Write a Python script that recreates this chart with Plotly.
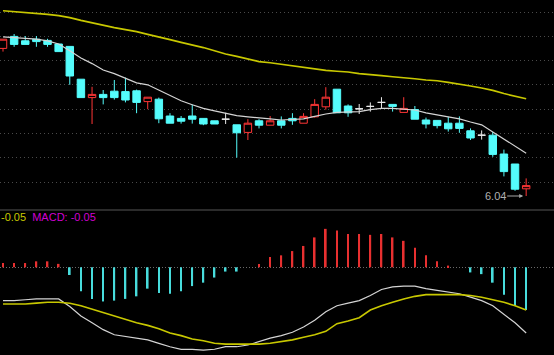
import plotly.graph_objects as go

# ---------------- data ----------------
idx = list(range(48))

opens = [6.409, 6.439, 6.428, 6.432, 6.429, 6.420, 6.414, 6.332, 6.286, 6.294,
         6.302, 6.301, 6.303, 6.276, 6.282, 6.240, 6.234, 6.240, 6.234, 6.228,
         6.232, 6.218, 6.199, 6.228, 6.217, 6.228, 6.234, 6.222, 6.238, 6.263,
         6.307, 6.265, 6.258, 6.264, 6.274, 6.269, 6.249, 6.256, 6.230, 6.229,
         6.222, 6.222, 6.203, 6.192, 6.192, 6.145, 6.120, 6.058]
highs = [6.432, 6.445, 6.440, 6.440, 6.433, 6.420, 6.414, 6.332, 6.313, 6.305,
         6.330, 6.336, 6.306, 6.287, 6.286, 6.247, 6.240, 6.269, 6.234, 6.228,
         6.248, 6.218, 6.232, 6.232, 6.240, 6.239, 6.247, 6.247, 6.282, 6.312,
         6.307, 6.269, 6.270, 6.274, 6.287, 6.269, 6.287, 6.265, 6.236, 6.229,
         6.238, 6.239, 6.209, 6.204, 6.200, 6.156, 6.120, 6.084]
lows = [6.401, 6.413, 6.419, 6.413, 6.413, 6.401, 6.318, 6.286, 6.220, 6.269,
        6.281, 6.274, 6.247, 6.257, 6.222, 6.222, 6.221, 6.221, 6.217, 6.220,
        6.220, 6.136, 6.180, 6.209, 6.217, 6.209, 6.218, 6.222, 6.236, 6.256,
        6.248, 6.238, 6.245, 6.251, 6.259, 6.251, 6.249, 6.232, 6.209, 6.209,
        6.201, 6.198, 6.180, 6.181, 6.138, 6.089, 6.053, 6.040]
closes = [6.432, 6.419, 6.419, 6.426, 6.419, 6.401, 6.340, 6.286, 6.294, 6.286,
          6.286, 6.280, 6.274, 6.287, 6.233, 6.222, 6.227, 6.232, 6.220, 6.220,
          6.232, 6.198, 6.222, 6.217, 6.228, 6.217, 6.228, 6.239, 6.269, 6.287,
          6.248, 6.248, 6.258, 6.264, 6.274, 6.264, 6.259, 6.232, 6.220, 6.216,
          6.208, 6.209, 6.185, 6.192, 6.144, 6.101, 6.057, 6.066]

ma_short = [6.438, 6.436, 6.434, 6.432, 6.428, 6.420, 6.403, 6.385, 6.371, 6.355,
            6.346, 6.335, 6.323, 6.318, 6.304, 6.290, 6.278, 6.268, 6.259, 6.253,
            6.247, 6.241, 6.238, 6.236, 6.233, 6.230, 6.231, 6.233, 6.239, 6.245,
            6.249, 6.250, 6.251, 6.256, 6.259, 6.259, 6.257, 6.255, 6.248, 6.243,
            6.238, 6.233, 6.225, 6.218, 6.200, 6.183, 6.165, 6.147]
ma_long = [6.503, 6.501, 6.498, 6.496, 6.494, 6.491, 6.486, 6.479, 6.473, 6.466,
           6.461, 6.456, 6.451, 6.444, 6.438, 6.431, 6.424, 6.418, 6.411, 6.403,
           6.395, 6.389, 6.383, 6.376, 6.373, 6.369, 6.365, 6.361, 6.358, 6.354,
           6.352, 6.350, 6.346, 6.344, 6.341, 6.338, 6.336, 6.333, 6.330, 6.328,
           6.324, 6.320, 6.315, 6.310, 6.304, 6.296, 6.289, 6.283]

dif = [-0.039, -0.039, -0.038, -0.037, -0.037, -0.037, -0.046, -0.057, -0.065, -0.073,
       -0.079, -0.081, -0.083, -0.085, -0.089, -0.093, -0.096, -0.096, -0.097, -0.096,
       -0.093, -0.093, -0.091, -0.087, -0.083, -0.080, -0.076, -0.070, -0.062, -0.052,
       -0.045, -0.042, -0.039, -0.033, -0.026, -0.023, -0.022, -0.022, -0.025, -0.027,
       -0.029, -0.031, -0.035, -0.039, -0.045, -0.055, -0.065, -0.077]
dea = [-0.043, -0.043, -0.043, -0.042, -0.041, -0.041, -0.042, -0.045, -0.049, -0.053,
       -0.057, -0.061, -0.065, -0.068, -0.072, -0.077, -0.080, -0.084, -0.086, -0.089,
       -0.090, -0.090, -0.090, -0.090, -0.089, -0.087, -0.085, -0.082, -0.079, -0.075,
       -0.066, -0.063, -0.059, -0.050, -0.045, -0.041, -0.037, -0.034, -0.032, -0.032,
       -0.032, -0.032, -0.033, -0.035, -0.038, -0.041, -0.045, -0.050]
macd = [0.005, 0.005, 0.005, 0.007, 0.007, 0.004, -0.009, -0.028, -0.037, -0.040,
        -0.039, -0.037, -0.034, -0.025, -0.030, -0.031, -0.028, -0.022, -0.018, -0.012,
        -0.005, -0.005, 0.000, 0.004, 0.012, 0.014, 0.019, 0.025, 0.035, 0.045,
        0.043, 0.039, 0.039, 0.038, 0.039, 0.035, 0.031, 0.023, 0.014, 0.007,
        0.002, 0.000, -0.006, -0.008, -0.018, -0.032, -0.045, -0.050]

grid_levels = [6.500, 6.439, 6.378, 6.318, 6.257, 6.196, 6.136, 6.075]
low_label = "6.04"
dea_label = "-0.05"
macd_label = "MACD: -0.05"

# ---------------- styles ----------------
RED = "#ff3636"
HIST_RED = "#e83030"
CYAN = "#54fcfc"
HIST_CYAN = "#48dcdc"
WHITE = "#e8e8e8"
YELLOW = "#c8c800"
MAGENTA = "#d000d0"
FONT = "Liberation Sans, Arial, sans-serif"

W, H = 554, 355
price_bottom_px = 208
macd_top_px = 212

fig = go.Figure()

# regular candles
reg = [i for i in idx if opens[i] != closes[i]]
fig.add_trace(go.Candlestick(
    x=[idx[i] for i in reg],
    open=[opens[i] for i in reg], high=[highs[i] for i in reg],
    low=[lows[i] for i in reg], close=[closes[i] for i in reg],
    increasing=dict(line=dict(color=RED, width=1), fillcolor="black"),
    decreasing=dict(line=dict(color=CYAN, width=1), fillcolor=CYAN),
    whiskerwidth=0, showlegend=False, hoverinfo="skip"))

# doji candles (open == close) drawn as white crosses
dj = [i for i in idx if opens[i] == closes[i]]
fig.add_trace(go.Candlestick(
    x=[idx[i] for i in dj],
    open=[opens[i] for i in dj], high=[highs[i] for i in dj],
    low=[lows[i] for i in dj], close=[closes[i] for i in dj],
    increasing=dict(line=dict(color=WHITE, width=1), fillcolor=WHITE),
    decreasing=dict(line=dict(color=WHITE, width=1), fillcolor=WHITE),
    whiskerwidth=0, showlegend=False, hoverinfo="skip"))

fig.add_trace(go.Scatter(x=idx, y=ma_short, mode="lines",
                         line=dict(color="#d4d4d4", width=1.2), showlegend=False))
fig.add_trace(go.Scatter(x=idx, y=ma_long, mode="lines",
                         line=dict(color=YELLOW, width=1.6), showlegend=False))

# MACD panel
fig.add_trace(go.Bar(x=idx, y=macd, yaxis="y2", width=0.15,
                     marker=dict(color=[HIST_RED if v >= 0 else HIST_CYAN for v in macd],
                                 line=dict(width=0)),
                     showlegend=False))
fig.add_trace(go.Scatter(x=idx, y=dif, yaxis="y2", mode="lines",
                         line=dict(color="#d4d4d4", width=1.2), showlegend=False))
fig.add_trace(go.Scatter(x=idx, y=dea, yaxis="y2", mode="lines",
                         line=dict(color=YELLOW, width=1.6), showlegend=False))

# axis scaling: price axis maps 0..208 px, macd axis 212..355 px
p_top = 6.53
p_per_px = 0.0025
m_zero_px = 267.3
m_per_px = 0.05 / 42.7

fig.update_layout(
    width=W, height=H,
    margin=dict(l=0, r=0, t=0, b=0),
    paper_bgcolor="black", plot_bgcolor="black",
    showlegend=False,
    boxgap=0.33, boxgroupgap=0,
    font=dict(family=FONT, size=11, color="#b0b0b0"),
    xaxis=dict(range=[-0.27, 49.5], visible=False, rangeslider=dict(visible=False),
               fixedrange=True),
    yaxis=dict(domain=[1 - price_bottom_px / H, 1],
               range=[p_top - p_per_px * price_bottom_px, p_top],
               tickvals=grid_levels, showticklabels=False, ticks="",
               showgrid=True, gridcolor="#4a4a4a", griddash="1px,3px", gridwidth=1,
               zeroline=False, showline=False),
    yaxis2=dict(domain=[0, 1 - macd_top_px / H], anchor="x",
                range=[(m_zero_px - H) * m_per_px, (m_zero_px - macd_top_px) * m_per_px],
                tickvals=[0], showticklabels=False, ticks="",
                showgrid=True, gridcolor="#6a6a6a", griddash="1px,2px", gridwidth=1,
                zeroline=False, showline=False),
    shapes=[
        dict(type="line", xref="paper", yref="paper", x0=0, x1=1,
             y0=1 - 210 / H, y1=1 - 210 / H, line=dict(color="#3a3a3a", width=1.5)),
    ],
    annotations=[
        dict(x=idx[-1], y=min(lows), xref="x", yref="y", text=low_label,
             showarrow=True, ax=-31, ay=0, arrowhead=2, arrowsize=0.8, arrowwidth=1,
             arrowcolor="#a8a8a8", standoff=3,
             font=dict(family=FONT, size=11, color="#b0b0b0")),
        dict(x=0, y=1 - 217.3 / H, xref="paper", yref="paper", xanchor="left",
             yanchor="middle", showarrow=False, xshift=-1,
             text=f"<span style='color:{YELLOW}'>{dea_label}</span>  "
                  f"<span style='color:{MAGENTA}'>{macd_label}</span>",
             font=dict(family=FONT, size=11)),
    ],
)

fig.write_html("out.html")
